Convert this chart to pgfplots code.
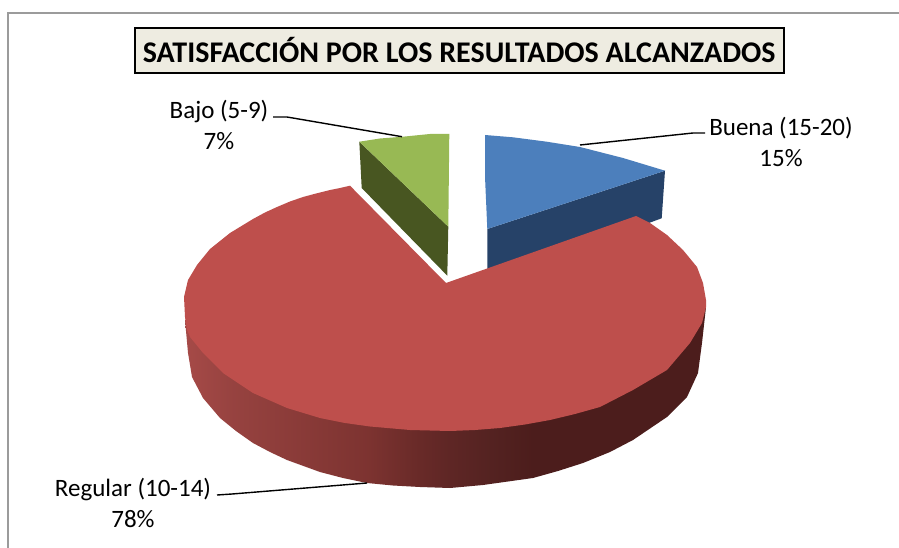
\documentclass[border=0pt]{standalone}
\usepackage{fontspec}
\setmainfont{Carlito}
\usepackage{pgfplots}
\pgfplotsset{compat=1.18}
\definecolor{redtop}{RGB}{190,79,76}
\definecolor{bluetop}{RGB}{76,127,188}
\definecolor{blueside}{RGB}{38,66,104}
\definecolor{greentop}{RGB}{152,185,84}
\definecolor{greenside}{RGB}{72,86,33}
\definecolor{titlefill}{RGB}{238,236,225}
\definecolor{framegray}{RGB}{155,155,155}
\pgfdeclarehorizontalshading{redsideshade}{100bp}{
  rgb(0bp)=(0.65,0.29,0.28);
  rgb(25bp)=(0.65,0.29,0.28);
  rgb(29.6bp)=(0.59,0.26,0.25);
  rgb(36bp)=(0.54,0.23,0.22);
  rgb(42.5bp)=(0.49,0.20,0.19);
  rgb(47.5bp)=(0.41,0.165,0.157);
  rgb(50.4bp)=(0.37,0.15,0.145);
  rgb(54.3bp)=(0.33,0.135,0.13);
  rgb(58.1bp)=(0.30,0.115,0.11);
  rgb(100bp)=(0.30,0.115,0.11)}
\begin{document}
\begin{tikzpicture}[x=1pt,y=1pt]
\useasboundingbox (0,0) rectangle (899,548);
\fill[white] (0,0) rectangle (899,548);
\begin{axis}[at={(0,0)},anchor=south west,scale only axis,width=899pt,height=548pt,
  xmin=0,xmax=899,ymin=0,ymax=548,y dir=reverse,hide axis,clip=false]
% frame
\addplot[framegray,line width=2pt] coordinates {(8,548) (8,13.5) (899,13.5)};
% green slice
\addplot[fill=greenside,draw=none] coordinates {(359.3,141.7) (361.7,188) (447.3,275.7) (448.3,226.7)} --cycle;
\addplot[fill=greentop,draw=none] coordinates {(449.3,134) (430,134) (403,136.7) (380,138.5) (359.3,141.7) (448.3,226.7)} --cycle;
% blue slice
\addplot[fill=blueside,draw=none] coordinates {(665,170.7) (661.7,218.3) (648,223.3) (640,240) (487.3,270) (487.3,229)} --cycle;
\addplot[fill=bluetop,draw=none] coordinates {(485,135) (513,137.3) (546.7,141.7) (580,147) (623,158) (665,170.7) (487.3,229) (485,176.7)} --cycle;
% red slice: side
\addplot[shading=redsideshade,draw=none] coordinates {(185,320) (188,353) (192,377) (203,398) (220,418) (236,431) (253,443) (270,452) (287,460) (320,472) (343,478) (367,483) (393,485.5) (420,487) (450,488) (483,485) (533,478) (558,471) (583,463) (610,452) (633,440) (667,417) (687,397) (698,373) (702,343) (706,307)} --cycle;
% red slice: top face
\addplot[fill=redtop,draw=none] coordinates {(446,283) (350,185.7) (340,188) (330,190) (316,193.5) (303,197) (290,201.5) (277,207) (265,212.5) (253,219) (230,233) (210,249) (197,265) (188,280) (184,297) (185,317) (187,330) (190,337) (203,353) (223,373) (253,393) (287,408) (320,418) (345,423) (370,426.5) (410,430) (450,431) (475,430) (500,428) (525,424.5) (550,420) (575,414) (600,407) (633,390) (667,370) (690,343) (702,323) (706,307) (706,300) (703,283) (697,267) (683,250) (667,235) (650,223) (636,216)} --cycle;
% leader lines
\addplot[black,line width=1.4pt] coordinates {(273,117) (287,117) (402,136.7)};
\addplot[black,line width=1.4pt] coordinates {(580,145) (693,133) (705,133)};
\addplot[black,line width=1.4pt] coordinates {(217,495) (232,494) (367,483)};
% labels
\node[font=\fontsize{25}{31}\selectfont,align=center] at (axis cs:219,125) {Bajo (5-9)\\7\%};
\node[font=\fontsize{25}{31}\selectfont,align=center] at (axis cs:781,142) {Buena (15-20)\\15\%};
\node[font=\fontsize{25}{31}\selectfont,align=center] at (axis cs:133,503) {Regular (10-14)\\78\%};
% title
\node[draw=black,fill=titlefill,line width=1.8pt,font=\bfseries\fontsize{30}{34}\selectfont,minimum width=649pt,minimum height=45pt,inner sep=0pt] at (axis cs:459.2,50.5) {SATISFACCIÓN POR LOS RESULTADOS ALCANZADOS};
\end{axis}
\end{tikzpicture}
\end{document}
